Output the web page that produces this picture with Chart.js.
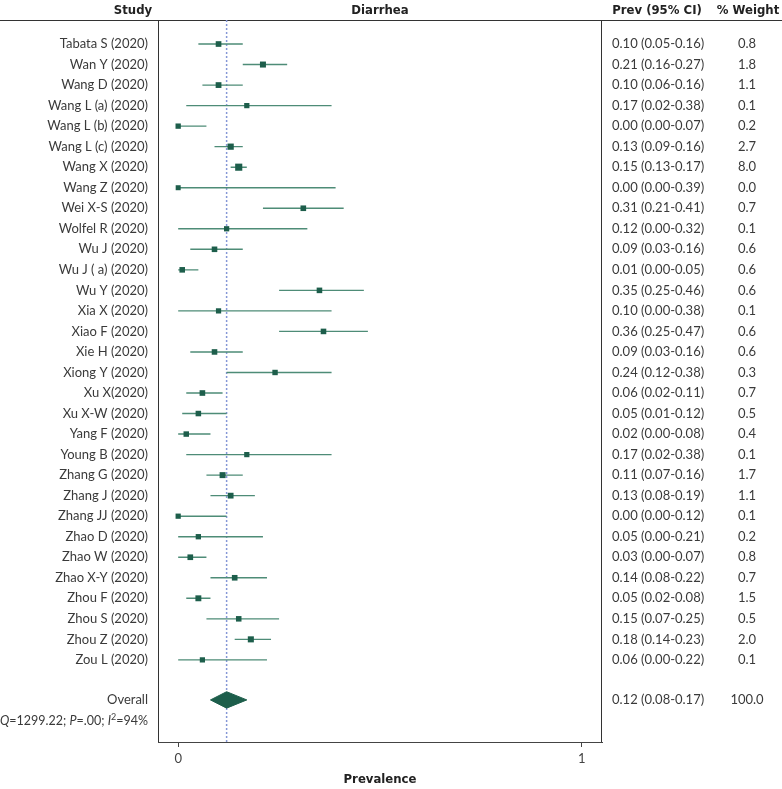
<!DOCTYPE html>
<html>
<head>
<meta charset="utf-8">
<script src="https://cdn.jsdelivr.net/npm/chart.js@4.4.1/dist/chart.umd.min.js"></script>
<style>
  html, body { margin: 0; padding: 0; background: #fff; }
  #wrap { width: 782px; height: 789px; }
</style>
</head>
<body>
<div id="wrap"><canvas id="forest" width="782" height="789"></canvas></div>
<script>
/* ---- Diarrhea forest plot ---- */

const studies = [
  'Tabata S (2020)', 'Wan Y (2020)', 'Wang D (2020)', 'Wang L (a) (2020)', 'Wang L (b) (2020)',
  'Wang L (c) (2020)', 'Wang X (2020)', 'Wang Z (2020)', 'Wei X-S (2020)', 'Wolfel R (2020)',
  'Wu J (2020)', 'Wu J ( a) (2020)', 'Wu Y (2020)', 'Xia X (2020)', 'Xiao F (2020)',
  'Xie H (2020)', 'Xiong Y (2020)', 'Xu X(2020)', 'Xu X-W (2020)', 'Yang F (2020)',
  'Young B (2020)', 'Zhang G (2020)', 'Zhang J (2020)', 'Zhang JJ (2020)', 'Zhao D (2020)',
  'Zhao W (2020)', 'Zhao X-Y (2020)', 'Zhou F (2020)', 'Zhou S (2020)', 'Zhou Z (2020)',
  'Zou L (2020)'
];
const prev   = [0.10, 0.21, 0.10, 0.17, 0.00, 0.13, 0.15, 0.00, 0.31, 0.12, 0.09, 0.01, 0.35, 0.10, 0.36, 0.09, 0.24, 0.06, 0.05, 0.02, 0.17, 0.11, 0.13, 0.00, 0.05, 0.03, 0.14, 0.05, 0.15, 0.18, 0.06];
const ciLow  = [0.05, 0.16, 0.06, 0.02, 0.00, 0.09, 0.13, 0.00, 0.21, 0.00, 0.03, 0.00, 0.25, 0.00, 0.25, 0.03, 0.12, 0.02, 0.01, 0.00, 0.02, 0.07, 0.08, 0.00, 0.00, 0.00, 0.08, 0.02, 0.07, 0.14, 0.00];
const ciHigh = [0.16, 0.27, 0.16, 0.38, 0.07, 0.16, 0.17, 0.39, 0.41, 0.32, 0.16, 0.05, 0.46, 0.38, 0.47, 0.16, 0.38, 0.11, 0.12, 0.08, 0.38, 0.16, 0.19, 0.12, 0.21, 0.07, 0.22, 0.08, 0.25, 0.23, 0.22];
const weight = [0.8, 1.8, 1.1, 0.1, 0.2, 2.7, 8.0, 0.0, 0.7, 0.1, 0.6, 0.6, 0.6, 0.1, 0.6, 0.6, 0.3, 0.7, 0.5, 0.4, 0.1, 1.7, 1.1, 0.1, 0.2, 0.8, 0.7, 1.5, 0.5, 2.0, 0.1];

const overallPrev = 0.12;
const overallLow = 0.08;
const overallHigh = 0.17;
const overallWeight = 100.0;
const hetStats = { Q: '1299.22', P: '.00', I2: '94%' };

const xTicks = [0, 1];

const OVERALL_ROW = 31.95;
const HET_ROW = 32.98;
const TEXT = '#3a3a3a';
const BODY_FONT = 'Lato, "Open Sans", sans-serif';
const HEAD_FONT = '"Liberation Sans Narrow", "DejaVu Sans Condensed", Roboto, sans-serif';
const GREEN = '#1d5e4b';

// CI segments as one broken line
const ciSegments = [];
studies.forEach((s, i) => {
  ciSegments.push({ x: ciLow[i], y: i }, { x: ciHigh[i], y: i }, { x: null, y: null });
});

const points = studies.map((s, i) => ({ x: prev[i], y: i }));
const pointSize = weight.map(w => (5 + 0.75 * Math.sqrt(w)) / Math.SQRT2);

const diamond = [
  { x: overallLow, y: OVERALL_ROW },
  { x: overallPrev, y: OVERALL_ROW - 0.4 },
  { x: overallHigh, y: OVERALL_ROW },
  { x: overallPrev, y: OVERALL_ROW + 0.4 },
  { x: overallLow, y: OVERALL_ROW },
];

const Y_MIN = -1.17, Y_MAX = 34.0;

const refLine = [{ x: overallPrev, y: Y_MIN }, { x: overallPrev, y: Y_MAX }];

// frame + text columns
const forestText = {
  id: 'forestText',
  beforeDatasetsDraw(chart) {
    const { ctx, chartArea: a } = chart;
    ctx.save();
    ctx.strokeStyle = '#333';
    ctx.lineWidth = 1;
    ctx.beginPath();
    ctx.moveTo(0, a.top + 0.5); ctx.lineTo(chart.width, a.top + 0.5);
    ctx.moveTo(a.left + 0.5, a.top); ctx.lineTo(a.left + 0.5, a.bottom);
    ctx.moveTo(a.right - 0.5, a.top); ctx.lineTo(a.right - 0.5, a.bottom);
    ctx.stroke();
    ctx.restore();
  },
  afterDraw(chart) {
    const { ctx, chartArea: a } = chart;
    const y = chart.scales.y;
    ctx.save();
    ctx.fillStyle = '#222';
    ctx.textBaseline = 'middle';

    // headers
    ctx.font = 'bold 13px ' + HEAD_FONT;
    ctx.textAlign = 'center';
    ctx.fillText('Study', 133, 11);
    ctx.fillText('Diarrhea', (a.left + a.right) / 2, 11);
    ctx.fillText('Prev (95% CI)', 657, 11);
    ctx.fillText('% Weight', 748, 11);

    ctx.fillStyle = TEXT;
    ctx.font = '13px ' + BODY_FONT;
    studies.forEach((s, i) => {
      const py = y.getPixelForValue(i);
      ctx.textAlign = 'right';
      ctx.fillText(s, 148, py);
      ctx.textAlign = 'left';
      ctx.fillText(prev[i].toFixed(2) + ' (' + ciLow[i].toFixed(2) + '-' + ciHigh[i].toFixed(2) + ')', 612, py);
      ctx.textAlign = 'center';
      ctx.fillText(weight[i].toFixed(1), 747, py);
    });

    const oy = y.getPixelForValue(OVERALL_ROW);
    ctx.textAlign = 'right';
    ctx.fillText('Overall', 148, oy);
    ctx.textAlign = 'left';
    ctx.fillText(overallPrev.toFixed(2) + ' (' + overallLow.toFixed(2) + '-' + overallHigh.toFixed(2) + ')', 612, oy);
    ctx.textAlign = 'center';
    ctx.fillText(overallWeight.toFixed(1), 747, oy);

    // heterogeneity line, built right-aligned from pieces
    const hy = y.getPixelForValue(HET_ROW);
    const pieces = [
      { t: 'Q', f: 'italic 12.5px ' + BODY_FONT },
      { t: '=' + hetStats.Q + '; ', f: '12.5px ' + BODY_FONT },
      { t: 'P', f: 'italic 12.5px ' + BODY_FONT },
      { t: '=' + hetStats.P + '; ', f: '12.5px ' + BODY_FONT },
      { t: 'I', f: 'italic 12.5px ' + BODY_FONT },
      { t: '2', f: '9px ' + BODY_FONT, sup: true },
      { t: '=' + hetStats.I2, f: '12.5px ' + BODY_FONT },
    ];
    let total = 0;
    pieces.forEach(p => { ctx.font = p.f; p.w = ctx.measureText(p.t).width; total += p.w; });
    let x = 148 - total;
    ctx.textAlign = 'left';
    pieces.forEach(p => {
      ctx.font = p.f;
      ctx.fillText(p.t, x, p.sup ? hy - 4 : hy);
      x += p.w;
    });
    ctx.restore();
  }
};

new Chart(document.getElementById('forest'), {
  type: 'scatter',
  data: {
    datasets: [
      {
        label: 'ref',
        data: refLine,
        showLine: true,
        borderColor: '#8597d6',
        borderWidth: 1.5,
        borderDash: [2, 2],
        pointRadius: 0,
        order: 4,
      },
      {
        label: 'ci',
        data: ciSegments,
        showLine: true,
        spanGaps: false,
        borderColor: '#4e8c77',
        borderWidth: 1.4,
        pointRadius: 0,
        order: 3,
      },
      {
        label: 'prev',
        data: points,
        pointStyle: 'rect',
        pointRadius: pointSize,
        pointBackgroundColor: GREEN,
        pointBorderWidth: 0,
        borderColor: GREEN,
        order: 2,
      },
      {
        label: 'overall',
        data: diamond,
        showLine: true,
        tension: 0,
        fill: 'shape',
        backgroundColor: GREEN,
        borderColor: GREEN,
        borderWidth: 1,
        pointRadius: 0,
        order: 1,
      },
    ],
  },
  options: {
    responsive: false,
    animation: false,
    devicePixelRatio: 1,
    layout: { padding: { left: 158, right: 180, top: 20, bottom: 0 } },
    plugins: {
      legend: { display: false },
      tooltip: { enabled: false },
    },
    scales: {
      x: {
        type: 'linear',
        min: -0.05,
        max: 1.05,
        afterBuildTicks: s => { s.ticks = xTicks.map(v => ({ value: v })); },
        afterFit: s => { s.height = 47; },
        grid: { drawOnChartArea: false, drawTicks: true, tickLength: 5, color: '#444' },
        border: { color: '#444', width: 1 },
        ticks: { color: '#444', font: { family: BODY_FONT, size: 13 }, padding: 4, maxRotation: 0 },
        title: {
          display: true,
          text: 'Prevalence',
          color: '#222',
          font: { family: HEAD_FONT, size: 13, weight: 'bold' },
          padding: { top: 4, bottom: 2 },
        },
      },
      y: {
        type: 'linear',
        display: false,
        reverse: true,
        min: Y_MIN,
        max: Y_MAX,
      },
    },
  },
  plugins: [forestText],
});
</script>
</body>
</html>
